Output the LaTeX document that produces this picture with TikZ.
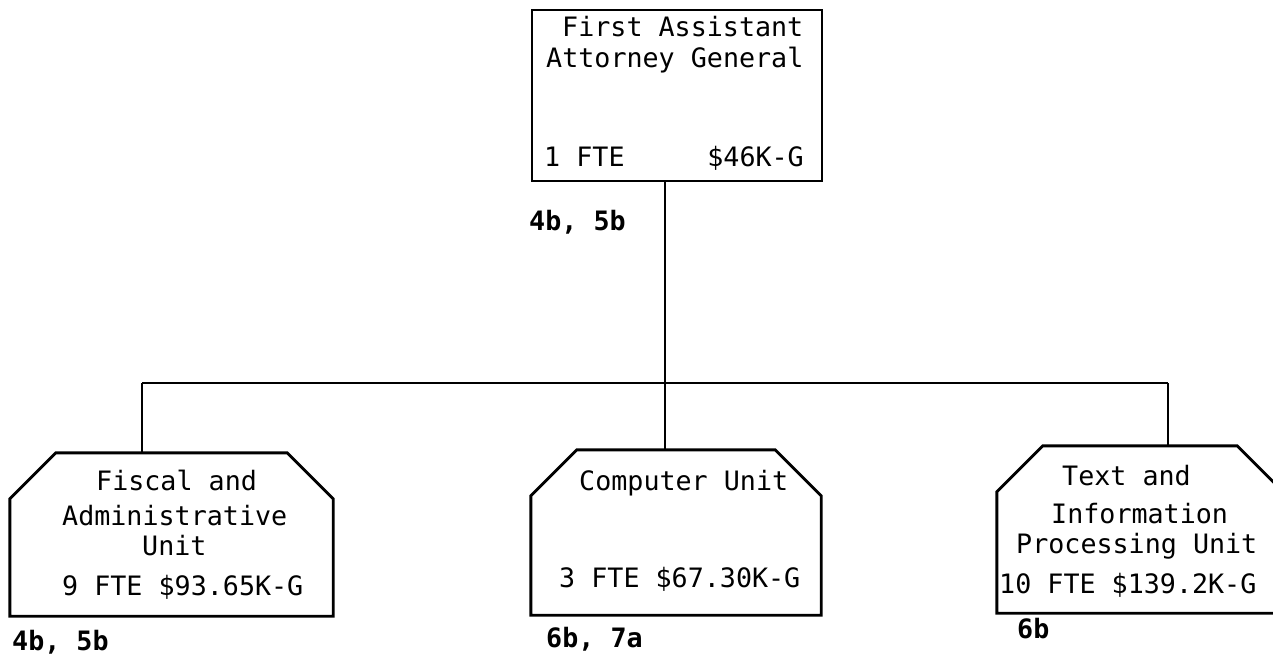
\documentclass[tikz,border=0pt]{standalone}
\usepackage{fontspec}
\newfontfamily\tw{DejaVu Sans Mono}
\begin{document}
\begin{tikzpicture}[x=1pt,y=-1pt,
  lw/.style={line width=2.9pt, line join=miter},
  topbox/.style={draw, lw, rectangle, inner sep=0pt},
  unitbox/.style={rectangle, inner sep=0pt},
  txt/.style={anchor=base west, inner sep=0pt, font=\tw\fontsize{26.7}{32}\selectfont},
  ref/.style={txt, font=\tw\bfseries\fontsize{26.7}{32}\selectfont},
  link/.style={lw}]
\useasboundingbox (0,0) rectangle (1273,655);
% boxes
\node[topbox, minimum width=290pt, minimum height=171pt] (top) at (677,95.5) {};
\node[unitbox, minimum width=323pt, minimum height=163pt] (fis) at (171.5,534.5) {};
\node[unitbox, minimum width=290pt, minimum height=165pt] (com) at (676,532.5) {};
\node[unitbox, minimum width=286pt, minimum height=167pt] (tex) at (1140,529.5) {};
\foreach \b in {fis,com,tex}{
  \draw[lw] ([yshift=-46pt]\b.north west) -- ([xshift=46pt]\b.north west)
    -- ([xshift=-46pt]\b.north east) -- ([yshift=-46pt]\b.north east)
    -- (\b.south east) -- (\b.south west) -- cycle;
}
% texts
\node[txt] (a1) at (562,37) {First Assistant};
\node[txt] (a2) at (546,68) {Attorney General};
\node[txt] (a3) at (544,167) {1 FTE};
\node[txt, anchor=base east] (a4) at (804,167) {\$46K-G};
\node[ref] (a5) at (529,230) {4b, 5b};
\node[txt] (b1) at (96,490) {Fiscal and};
\node[txt] (b2) at (62,525) {Administrative};
\node[txt] (b3) at (142,555) {Unit};
\node[txt] (b4) at (62,595) {9 FTE \$93.65K-G};
\node[ref] (b5) at (12,650) {4b, 5b};
\node[txt] (c1) at (579,490) {Computer Unit};
\node[txt] (c2) at (559,587) {3 FTE \$67.30K-G};
\node[ref] (c3) at (546,647) {6b, 7a};
\node[txt] (d1) at (1062,485) {Text and};
\node[txt] (d2) at (1051,523) {Information};
\node[txt] (d3) at (1016,553) {Processing Unit};
\node[txt] (d4) at (999,593) {10 FTE \$139.2K-G};
\node[ref] (d5) at (1017,638) {6b};
% connectors
\coordinate (busL) at (142,383);
\coordinate (busR) at (1168,383);
\coordinate (busM) at (665,383);
\draw[link] (top.south -| busM) -- (busM);
\draw[link] (busL) -- (busR);
\draw[link] (busL) -- (busL |- fis.north);
\draw[link] (busM) -- (busM |- com.north);
\draw[link] (busR) -- (busR |- tex.north);
\end{tikzpicture}
\end{document}
